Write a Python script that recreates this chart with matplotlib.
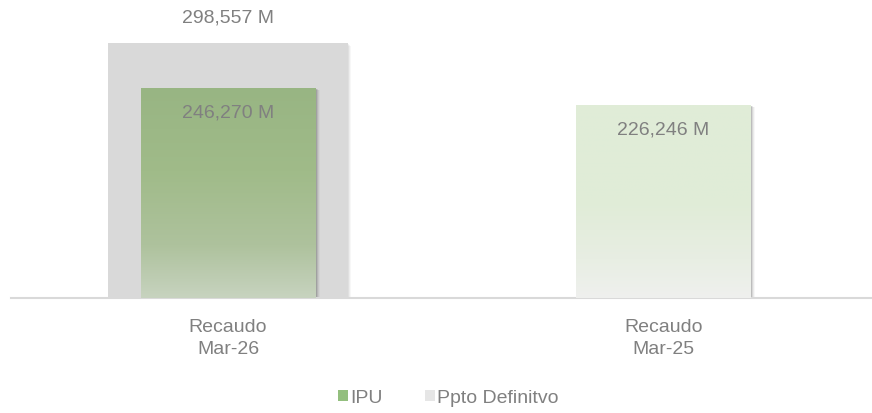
import numpy as np
import matplotlib.pyplot as plt
import matplotlib.transforms as mtransforms
from matplotlib.patches import Patch, Rectangle
from matplotlib.colors import LinearSegmentedColormap

plt.rcParams['font.family'] = ['Liberation Sans', 'DejaVu Sans']

categories = ["Recaudo\nMar-26", "Recaudo\nMar-25"]
ipu = [246270, 226246]
ppto = [298557]          # only the first category has a budget bar
ppto_idx = [0]

text_gray = '#808080'
fs = 14

fig = plt.figure(figsize=(8.72, 4.13), dpi=100)
ax = fig.add_axes([11 / 872, 115 / 413, 861 / 872, 282 / 413])

x = np.arange(len(categories))

# budget bar (wide, gray) behind
pb = ax.bar(ppto_idx, ppto, width=0.552, color='#d9d9d9', zorder=1)
for p in pb:
    for k, a in enumerate([0.05, 0.04, 0.03]):
        off = mtransforms.offset_copy(ax.transData, fig=fig, x=(k + 1) * 1.0, y=-(k + 1) * 1.0, units='dots')
        ax.add_patch(Rectangle(p.get_xy(), p.get_width(), p.get_height(), transform=off,
                               color='black', alpha=a, lw=0, zorder=0.5))

# IPU bars with vertical gradient
grads = [
    [(0.0, '#c7d3bf'), (0.25, '#aec29d'), (0.6, '#a0bb89'), (1.0, '#98b583')],
    [(0.0, '#eff0ee'), (0.2, '#e8eee3'), (0.5, '#e0ecd7'), (1.0, '#e0edd8')],
]
bars = ax.bar(x, ipu, width=0.4, color='none', zorder=3)
for p, g in zip(bars, grads):
    x0, y0 = p.get_xy()
    w, h = p.get_width(), p.get_height()
    # soft shadow to the right
    for k, a in enumerate([0.12, 0.08, 0.05, 0.03]):
        off = mtransforms.offset_copy(ax.transData, fig=fig, x=k + 2, y=-(k * 0.5 + 1), units='dots')
        ax.add_patch(Rectangle((x0, y0), w, h, transform=off, color='black', alpha=a, lw=0, zorder=2))
    cmap = LinearSegmentedColormap.from_list('g', g)
    grad = np.linspace(0, 1, 256).reshape(-1, 1)
    im = ax.imshow(grad, cmap=cmap, origin='lower', aspect='auto',
                   extent=[x0, x0 + w, y0, y0 + h], zorder=3)
    im.set_clip_path(p)

# value labels
for i, v in zip(ppto_idx, ppto):
    ax.annotate(f"{v:,} M", (i, v), xytext=(0, 25), textcoords='offset pixels',
                ha='center', va='center', fontsize=fs, color=text_gray)
for i, v in enumerate(ipu):
    ax.annotate(f"{v:,} M", (i, v), xytext=(0, -25), textcoords='offset pixels',
                ha='center', va='center', fontsize=fs, color=text_gray, zorder=5)

ax.set_xlim(-0.499, 1.48)
ax.set_ylim(0, 330000)
ax.set_xticks(x)
ax.set_xticklabels(categories, fontsize=fs, color=text_gray, linespacing=1.4)
ax.tick_params(axis='x', length=0, pad=15)
ax.set_yticks([])
for s in ['top', 'right', 'left']:
    ax.spines[s].set_visible(False)
ax.spines['bottom'].set_color('#d9d9d9')
ax.spines['bottom'].set_linewidth(1.5)
ax.set_facecolor('none')

handles = [Patch(facecolor='#93bf7e', label='IPU'),
           Patch(facecolor='#e6e6e6', label='Ppto Definitvo')]
leg = fig.legend(handles=handles, loc='center', bbox_to_anchor=(0.514, 0.036), ncol=2,
                 frameon=False, fontsize=fs, handlelength=0.5, handleheight=0.5,
                 handletextpad=0.1, columnspacing=2.2)
for t in leg.get_texts():
    t.set_color(text_gray)

fig.savefig('out.png', dpi=100)
